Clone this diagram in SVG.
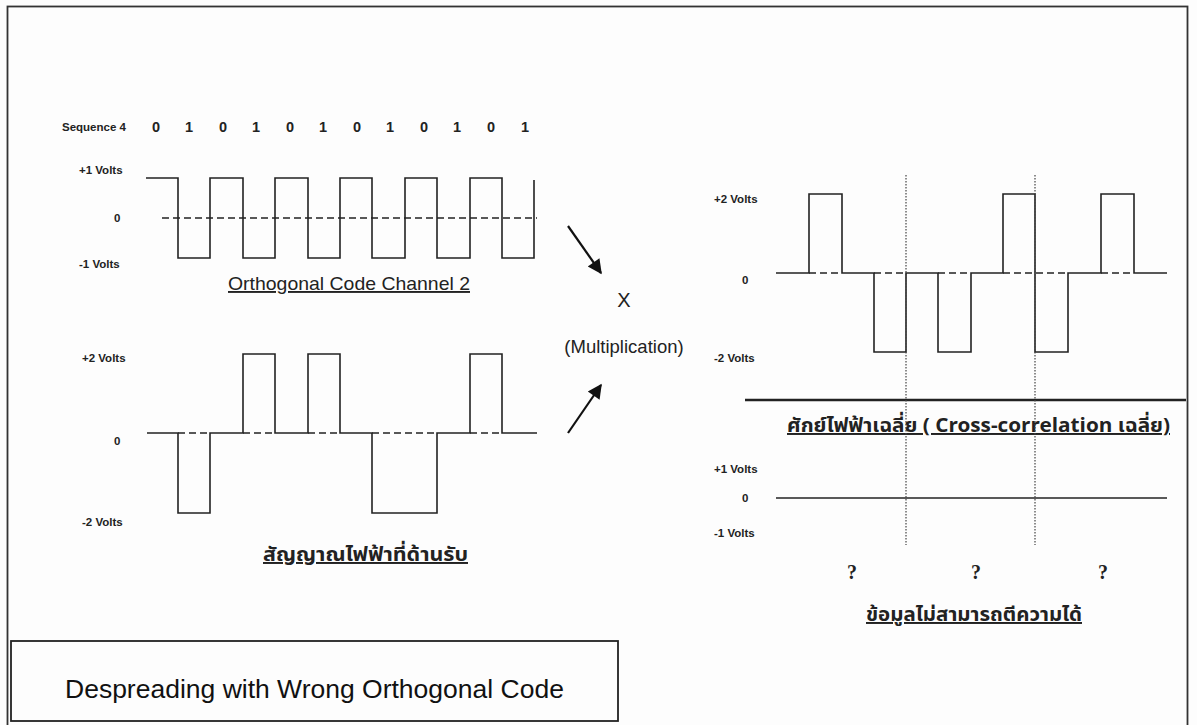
<svg xmlns="http://www.w3.org/2000/svg" width="1197" height="725" viewBox="0 0 1197 725">
  <defs>
    <style>
      .lbl { font-family: "Liberation Sans", Arial, sans-serif; font-size: 11.5px; font-weight: bold; fill: #222; }
      .bit { font-family: "Liberation Sans", Arial, sans-serif; font-size: 14.5px; font-weight: bold; fill: #222; text-anchor: middle; }
      .cap { font-family: "Liberation Sans", Arial, sans-serif; font-size: 19px; fill: #222; text-decoration: underline; }
      .thai { font-family: "Noto Sans Thai", "Loma", "Garuda", "Norasi", "DejaVu Sans", sans-serif; font-weight: bold; fill: #222; text-decoration: underline; }
      .wave { fill: none; stroke: #222; stroke-width: 1.6; }
      .dash { fill: none; stroke: #222; stroke-width: 1.6; stroke-dasharray: 7 4; }
      .dot { fill: none; stroke: #444; stroke-width: 1.2; stroke-dasharray: 1.5 1.5; }
      .q { font-family: "Liberation Serif", "Times New Roman", serif; font-size: 20px; font-weight: bold; fill: #222; text-anchor: middle; }
    </style>
    <marker id="head" viewBox="0 0 10 10" refX="9" refY="5" markerWidth="7.5" markerHeight="6.5" orient="auto" markerUnits="strokeWidth">
      <path d="M0,0 L10,5 L0,10 z" fill="#111"/>
    </marker>
  </defs>

  <rect x="0" y="0" width="1197" height="725" fill="#fdfdfd"/>
  <!-- page frame (bottom edge runs past the sheet) -->
  <rect x="7.5" y="6.5" width="1180" height="740" fill="none" stroke="#333" stroke-width="1.8"/>

  <!-- orthogonal code, channel 2 -->
  <g id="code-channel-2">
    <text class="lbl" x="62" y="131">Sequence 4</text>
    <text class="bit" x="156" y="132">0</text>
    <text class="bit" x="189" y="132">1</text>
    <text class="bit" x="223" y="132">0</text>
    <text class="bit" x="256" y="132">1</text>
    <text class="bit" x="290" y="132">0</text>
    <text class="bit" x="323" y="132">1</text>
    <text class="bit" x="357" y="132">0</text>
    <text class="bit" x="390" y="132">1</text>
    <text class="bit" x="424" y="132">0</text>
    <text class="bit" x="457" y="132">1</text>
    <text class="bit" x="491" y="132">0</text>
    <text class="bit" x="525" y="132">1</text>
    <text class="lbl" x="79" y="174">+1 Volts</text>
    <text class="lbl" x="114" y="222">0</text>
    <text class="lbl" x="79" y="268">-1 Volts</text>
    <line class="dash" x1="162" y1="218" x2="537" y2="218"/>
    <path class="wave" d="M146,178 H178 V258 H210 V178 H243 V258 H275 V178 H308 V258 H340 V178 H372 V258 H405 V178 H437 V258 H470 V178 H502 V258 H534 V180"/>
    <text class="cap" x="228" y="290" textLength="242" lengthAdjust="spacingAndGlyphs">Orthogonal Code Channel 2</text>
  </g>

  <!-- received signal -->
  <g id="received-signal">
    <text class="lbl" x="82" y="362">+2 Volts</text>
    <text class="lbl" x="114" y="445">0</text>
    <text class="lbl" x="82" y="526">-2 Volts</text>
    <path class="wave" d="M147,433 H178 V513 H210 V433 H243 V354 H275 V433 H308 V354 H340 V433 H372 V513 H437 V433 H470 V354 H502 V433 H537"/>
    <path class="dash" d="M178,433 H210 M243,433 H275 M308,433 H340 M372,433 H437 M470,433 H502"/>
    <text class="thai" x="263" y="561" font-size="19.5" textLength="205" lengthAdjust="spacingAndGlyphs">สัญญาณไฟฟ้าที่ด้านรับ</text>
  </g>

  <!-- multiplication -->
  <g id="multiplication">
    <text x="624" y="307" font-family="Liberation Sans, Arial, sans-serif" font-size="20" fill="#222" text-anchor="middle">X</text>
    <text x="624" y="353" font-family="Liberation Sans, Arial, sans-serif" font-size="18.5" fill="#222" text-anchor="middle">(Multiplication)</text>
  </g>

  <!-- product of the two signals -->
  <g id="product">
    <text class="lbl" x="714" y="203">+2 Volts</text>
    <text class="lbl" x="742" y="284">0</text>
    <text class="lbl" x="714" y="362">-2 Volts</text>
    <path class="wave" d="M776,273 H809 V194 H842 V273 H874 V352 H906 V273 H938 V352 H971 V273 H1003 V194 H1035 V352 H1068 V273 H1101 V194 H1134 V273 H1167"/>
    <path class="dash" d="M809,273 H842 M874,273 H906 M938,273 H971 M1003,273 H1068 M1101,273 H1134"/>
    <line x1="745" y1="400" x2="1186" y2="400" stroke="#222" stroke-width="2.5"/>
    <text class="thai" x="787" y="432" font-size="19.5" textLength="383" lengthAdjust="spacingAndGlyphs">ศักย์ไฟฟ้าเฉลี่ย ( Cross-correlation เฉลี่ย)</text>
  </g>

  <!-- averaged result -->
  <g id="average">
    <text class="lbl" x="714" y="473">+1 Volts</text>
    <text class="lbl" x="742" y="502">0</text>
    <text class="lbl" x="714" y="537">-1 Volts</text>
    <line x1="776" y1="498" x2="1167" y2="498" stroke="#222" stroke-width="1.6"/>
    <text class="q" x="852" y="579">?</text>
    <text class="q" x="976" y="579">?</text>
    <text class="q" x="1103" y="579">?</text>
    <text class="thai" x="866" y="621" font-size="19.5" textLength="216" lengthAdjust="spacingAndGlyphs">ข้อมูลไม่สามารถตีความได้</text>
  </g>

  <!-- chip-period markers -->
  <g id="markers">
    <line class="dot" x1="906" y1="175" x2="906" y2="545"/>
    <line class="dot" x1="1035" y1="175" x2="1035" y2="545"/>
  </g>

  <!-- connectors into the multiplier -->
  <g id="connectors">
    <line x1="568" y1="226" x2="601" y2="273" stroke="#111" stroke-width="2.2" marker-end="url(#head)"/>
    <line x1="568" y1="433" x2="601" y2="385" stroke="#111" stroke-width="2.2" marker-end="url(#head)"/>
  </g>

  <!-- caption box -->
  <g id="caption">
    <rect x="11" y="641" width="607" height="80" fill="none" stroke="#222" stroke-width="1.8"/>
    <text x="65" y="698" font-family="Liberation Sans, Arial, sans-serif" font-size="26.5" fill="#111">Despreading with Wrong Orthogonal Code</text>
  </g>
</svg>
